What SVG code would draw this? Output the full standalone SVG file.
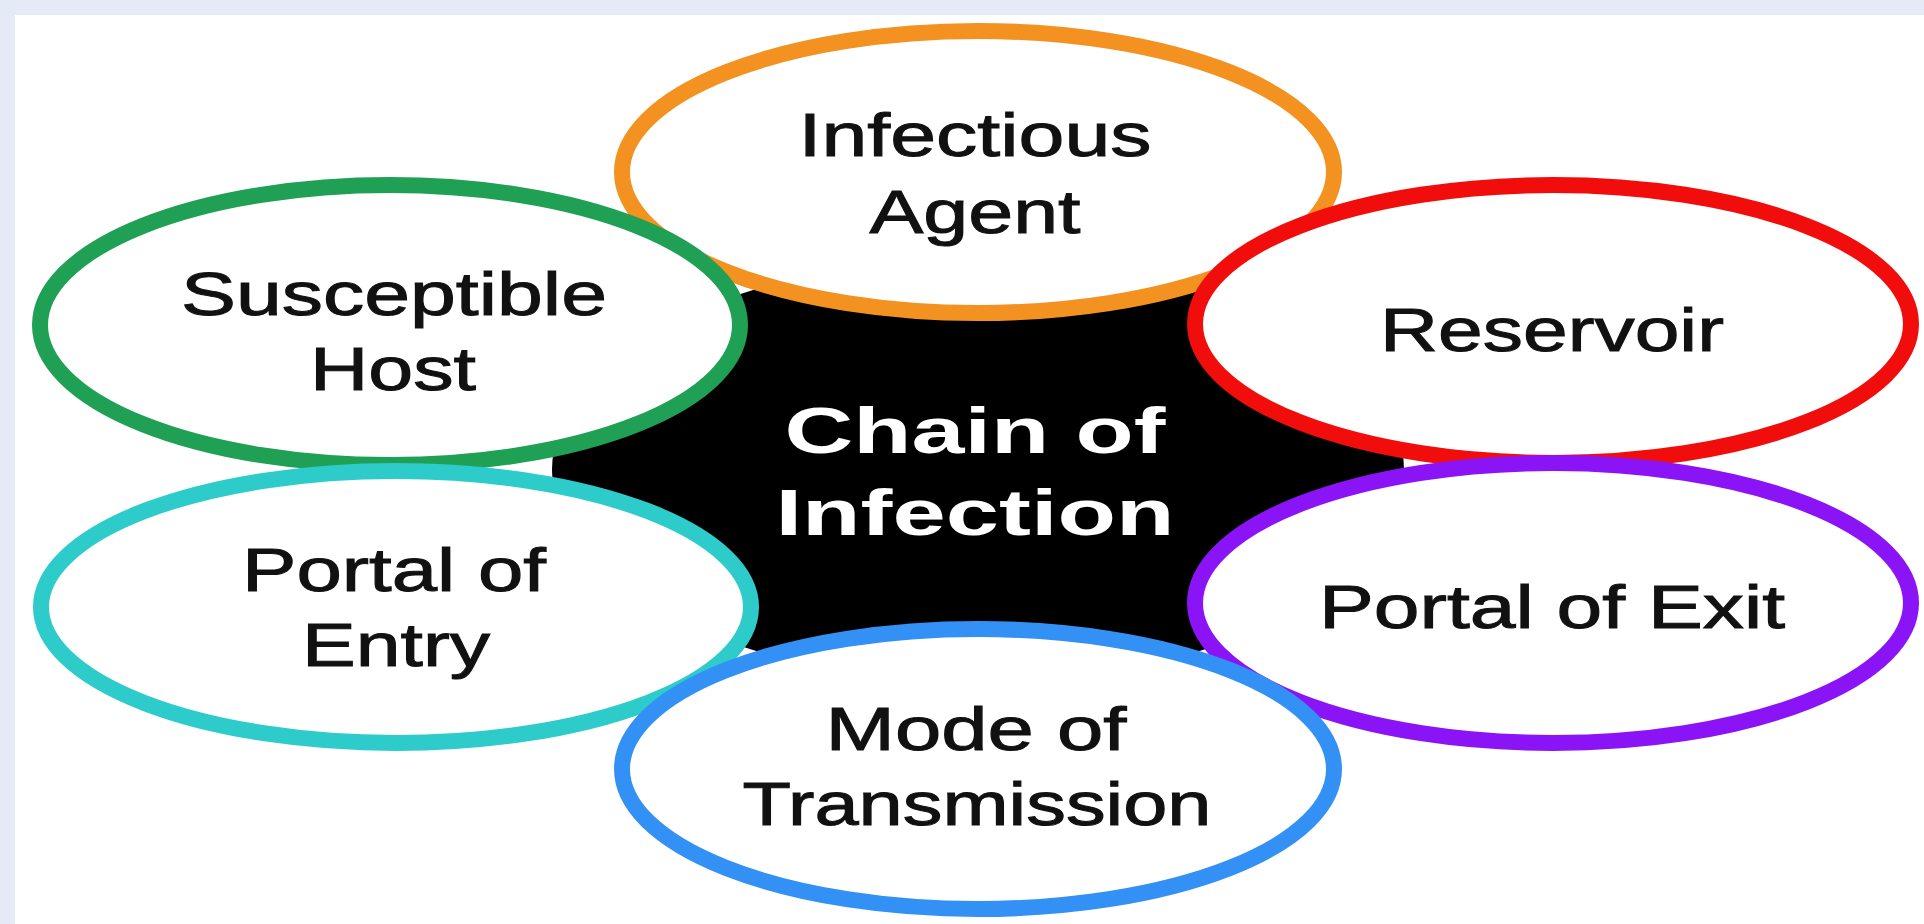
<svg xmlns="http://www.w3.org/2000/svg" width="1924" height="924" viewBox="0 0 1924 924">
<style>
.node ellipse{fill:#fff;stroke-width:16}
.lbl{font-family:"Liberation Sans",Arial,sans-serif;font-size:62px;fill:#111;stroke:#111;stroke-width:1;text-anchor:middle}
.ctr{font-family:"Liberation Sans",Arial,sans-serif;font-size:64px;font-weight:bold;fill:#fff;text-anchor:middle}
</style>
<rect x="0" y="0" width="1924" height="924" fill="#e4eaf6"/>
<rect x="15" y="15" width="1909" height="909" fill="#fff"/>
<g id="center">
<ellipse cx="978" cy="470" rx="426" ry="212" fill="#000"/>
</g>
<g id="connectors"></g>
<g id="infectious-agent" class="node">
<ellipse cx="978" cy="172" rx="356" ry="141" stroke="#f39221"/>
<text class="lbl" x="975" y="156" textLength="353" lengthAdjust="spacingAndGlyphs">Infectious</text>
<text class="lbl" x="975" y="233" textLength="211" lengthAdjust="spacingAndGlyphs">Agent</text>
</g>
<g id="susceptible-host" class="node">
<ellipse cx="390" cy="325" rx="350" ry="140" stroke="#1fa055"/>
<text class="lbl" x="394" y="315" textLength="426" lengthAdjust="spacingAndGlyphs">Susceptible</text>
<text class="lbl" x="393" y="390" textLength="166" lengthAdjust="spacingAndGlyphs">Host</text>
</g>
<g id="reservoir" class="node">
<ellipse cx="1553" cy="324" rx="358" ry="139" stroke="#f20d0d"/>
<text class="lbl" x="1552" y="351" textLength="344" lengthAdjust="spacingAndGlyphs">Reservoir</text>
</g>
<g id="portal-of-exit" class="node">
<ellipse cx="1553" cy="603" rx="358" ry="140" stroke="#8b14f7"/>
<text class="lbl" x="1552" y="628" textLength="466" lengthAdjust="spacingAndGlyphs">Portal of Exit</text>
</g>
<g id="portal-of-entry" class="node">
<ellipse cx="396" cy="607" rx="355" ry="136" stroke="#2ecbcb"/>
<text class="lbl" x="394" y="591" textLength="304" lengthAdjust="spacingAndGlyphs">Portal of</text>
<text class="lbl" x="396" y="666" textLength="188" lengthAdjust="spacingAndGlyphs">Entry</text>
</g>
<g id="mode-of-transmission" class="node">
<ellipse cx="978" cy="769" rx="356" ry="140" stroke="#3390f5"/>
<text class="lbl" x="976" y="750" textLength="301" lengthAdjust="spacingAndGlyphs">Mode of</text>
<text class="lbl" x="977" y="825" textLength="469" lengthAdjust="spacingAndGlyphs">Transmission</text>
</g>
<g id="chain-label">
<text class="ctr" x="975" y="453" textLength="381" lengthAdjust="spacingAndGlyphs">Chain of</text>
<text class="ctr" x="975" y="535" textLength="399" lengthAdjust="spacingAndGlyphs">Infection</text>
</g>
</svg>
